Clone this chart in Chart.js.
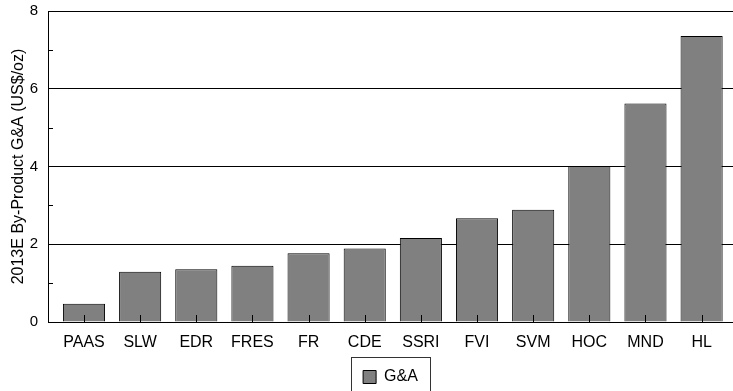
<!DOCTYPE html>
<html>
<head>
<meta charset="utf-8">
<script src="https://cdn.jsdelivr.net/npm/chart.js@4.4.1/dist/chart.umd.min.js"></script>
<style>
  html, body { margin: 0; padding: 0; background: #fff; }
  #wrap { width: 733px; height: 391px; position: relative; }
</style>
</head>
<body>
<div id="wrap"><canvas id="chart"></canvas></div>
<script>
// 2013E by-product G&A per company
const companies = ["PAAS", "SLW", "EDR", "FRES", "FR", "CDE", "SSRI", "FVI", "SVM", "HOC", "MND", "HL"];
const gaValues = [0.47, 1.29, 1.36, 1.45, 1.77, 1.89, 2.16, 2.67, 2.89, 4.01, 5.62, 7.36];
const yTicks = [0, 2, 4, 6, 8];
const yMinor = [1, 3, 5, 7];

const FONT = "'Liberation Sans', Arial, sans-serif";

// small inward tick marks + box round the legend
const extras = {
    id: 'extras',
    afterDraw(chart) {
        const ctx = chart.ctx;
        const x = chart.scales.x, y = chart.scales.y;
        const area = chart.chartArea;
        ctx.save();
        ctx.strokeStyle = '#000';
        ctx.lineWidth = 1;
        ctx.beginPath();
        yMinor.forEach(v => {
            const py = Math.round(y.getPixelForValue(v)) + 0.5;
            ctx.moveTo(area.left, py);
            ctx.lineTo(area.left + 5, py);
        });
        companies.forEach((c, i) => {
            const px = Math.round(x.getPixelForValue(i)) + 0.5;
            ctx.moveTo(px, area.bottom);
            ctx.lineTo(px, area.bottom - 7);
        });
        ctx.stroke();

        const hb = chart.legend.legendHitBoxes[0];
        if (hb) {
            ctx.strokeStyle = '#333';
            ctx.strokeRect(Math.round(hb.left - 12) + 0.5, 357.5, Math.round(hb.width + 24), 40);
        }
        ctx.restore();
    }
};

new Chart(document.getElementById("chart"), {
    type: 'bar',
    data: {
        datasets: [{
            label: "G&A",
            data: companies.map((c, i) => ({ x: i, y: gaValues[i] })),
            backgroundColor: "#808080",
            borderColor: "#000",
            borderWidth: 1,
            barPercentage: 0.75,
            categoryPercentage: 1.0
        }]
    },
    options: {
        responsive: true,
        maintainAspectRatio: false,
        animation: false,
        layout: { padding: { top: 11, right: 0, bottom: -4, left: 0 } },
        plugins: {
            tooltip: { enabled: false },
            legend: {
                position: 'bottom',
                fullSize: false,
                labels: {
                    color: '#000',
                    font: { family: FONT, size: 16 },
                    boxWidth: 13,
                    boxHeight: 13,
                    padding: 0
                }
            }
        },
        scales: {
            x: {
                type: 'linear',
                offset: false,
                min: -0.641,
                max: 11.559,
                afterBuildTicks: s => { s.ticks = companies.map((c, i) => ({ value: i })); },
                afterFit: s => { s.height = 47; s.paddingLeft = 0; s.paddingRight = 0; },
                grid: { display: false, drawTicks: false },
                border: { display: true, color: '#000', width: 1 },
                ticks: {
                    autoSkip: false,
                    maxRotation: 0,
                    padding: 11,
                    color: '#000',
                    font: { family: FONT, size: 16 },
                    callback: v => companies[v]
                }
            },
            y: {
                min: 0,
                max: 8,
                afterBuildTicks: s => { s.ticks = yTicks.map(v => ({ value: v })); },
                afterFit: s => { s.width = 48; s.paddingTop = 0; s.paddingBottom = 0; },
                grid: {
                    drawTicks: false,
                    color: '#000',
                    lineWidth: 1
                },
                border: { display: true, color: '#000', width: 1 },
                ticks: {
                    padding: 10,
                    color: '#000',
                    font: { family: FONT, size: 15 }
                },
                title: {
                    display: true,
                    text: "2013E By-Product G&A (US$/oz)",
                    color: '#000',
                    font: { family: FONT, size: 16 },
                    padding: { top: 9, bottom: 0 }
                }
            }
        }
    },
    plugins: [extras]
});
</script>
</body>
</html>
